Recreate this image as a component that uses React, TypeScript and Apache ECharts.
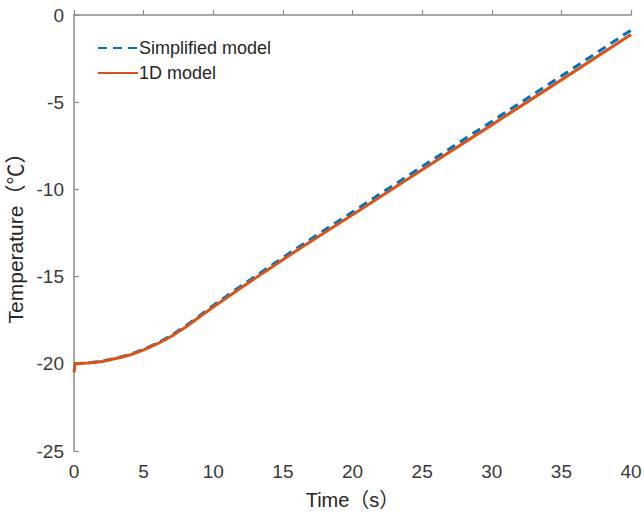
import React, { useEffect, useRef } from "react";
import * as echarts from "echarts";

// Time axis samples (s)
const timeSimplified = [0, 1, 2, 3, 4, 5, 6, 7, 8, 9, 10, 12, 14, 16, 18, 20, 25, 30, 35, 40];
const tempSimplified = [-20.0, -19.95, -19.85, -19.68, -19.47, -19.17, -18.81, -18.37, -17.84, -17.25, -16.65, -15.54, -14.45, -13.38, -12.33, -11.29, -8.69, -6.1, -3.5, -0.87];

const time1D = [0, 0.08, 1, 2, 3, 4, 5, 6, 7, 8, 9, 10, 12, 14, 16, 18, 20, 25, 30, 35, 40];
const temp1D = [-20.5, -20.0, -19.96, -19.87, -19.7, -19.5, -19.2, -18.85, -18.42, -17.9, -17.32, -16.74, -15.64, -14.56, -13.5, -12.47, -11.45, -8.87, -6.3, -3.72, -1.12];

const seriesNames = ["Simplified model", "1D model"];

const FONT = "Liberation Sans, Arial, Noto Sans CJK SC, sans-serif";

export default function App() {
  const ref = useRef<HTMLDivElement>(null);

  useEffect(() => {
    if (!ref.current) return;
    const chart = echarts.init(ref.current, undefined, { renderer: "svg" });
    const axisColor = "#8a8a8a";
    const labelColor = "#3a3a3a";
    chart.setOption({
      animation: false,
      backgroundColor: "#ffffff",
      grid: { left: 74, right: 13, top: 15, bottom: 64, outerBoundsMode: "none", containLabel: false },
      legend: {
        left: 92,
        top: 34,
        orient: "vertical",
        itemWidth: 40,
        itemHeight: 14,
        itemGap: 7,
        itemStyle: { opacity: 0 },
        textStyle: { fontFamily: FONT, fontSize: 18, color: "#262626", padding: [0, 0, 0, -4] },
        data: seriesNames,
      },
      xAxis: {
        type: "value",
        min: 0,
        max: 40,
        interval: 5,
        name: "Time（s）",
        nameLocation: "middle",
        nameGap: 39,
        nameTextStyle: { fontFamily: FONT, fontSize: 20, color: "#262626" },
        axisLine: { show: true, lineStyle: { color: axisColor, width: 1.5 } },
        axisTick: { show: true, inside: true, length: 5, lineStyle: { color: axisColor, width: 1.2 } },
        axisLabel: { fontFamily: FONT, fontSize: 19, color: labelColor, margin: 11 },
        splitLine: { show: false },
      },
      yAxis: {
        type: "value",
        min: -25,
        max: 0,
        interval: 5,
        name: "Temperature（℃）",
        nameLocation: "middle",
        nameGap: 44,
        nameTextStyle: { fontFamily: FONT, fontSize: 21, color: "#262626" },
        axisLine: { show: true, lineStyle: { color: axisColor, width: 1.5 } },
        axisTick: { show: true, inside: true, length: 5, lineStyle: { color: axisColor, width: 1.2 } },
        axisLabel: { fontFamily: FONT, fontSize: 19, color: labelColor, margin: 10 },
        splitLine: { show: false },
      },
      series: [
        {
          name: seriesNames[0],
          type: "line",
          showSymbol: false,
          symbol: "none",
          data: timeSimplified.map((t, i) => [t, tempSimplified[i]]),
          lineStyle: { color: "#0072BD", width: 3, type: [9, 6] },
          itemStyle: { color: "#0072BD" },
        },
        {
          name: seriesNames[1],
          type: "line",
          showSymbol: false,
          symbol: "none",
          data: time1D.map((t, i) => [t, temp1D[i]]),
          lineStyle: { color: "#D95319", width: 3 },
          itemStyle: { color: "#D95319" },
        },
      ],
    });
    return () => chart.dispose();
  }, []);

  return <div ref={ref} style={{ width: 644, height: 515, position: "absolute", left: 0, top: 0 }} />;
}
